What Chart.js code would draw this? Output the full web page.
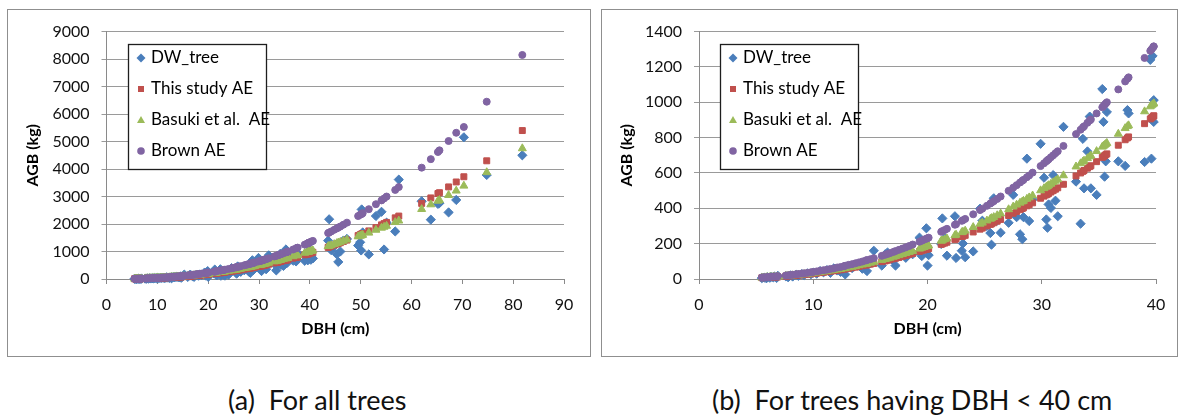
<!DOCTYPE html>
<html>
<head>
<meta charset="utf-8">
<script src="https://cdn.jsdelivr.net/npm/chart.js@4.4.0/dist/chart.umd.min.js"></script>
<style>
    body { margin: 0; background: #fff; width: 1181px; height: 415px; position: relative; overflow: hidden; font-family: Lato, 'Noto Sans', sans-serif; }
    .panel { position: absolute; top: 9px; height: 346px; border: 1px solid #8f8f8f; background: #fff; }
    .panel canvas { display: block; }
    #panelA { left: 7px; width: 582px; }
    #panelB { left: 601px; width: 575px; }
    .caption { position: absolute; top: 384px; font-size: 27px; line-height: 32px; color: #111; white-space: pre; }
</style>
</head>
<body>
<div class="panel" id="panelA"><canvas id="chartA" width="582" height="346"></canvas></div>
<div class="panel" id="panelB"><canvas id="chartB" width="575" height="346"></canvas></div>
<div class="caption" id="capA" style="left:228px"></div>
<div class="caption" id="capB" style="left:712px"></div>

<script>
// Tree data (DBH in cm, AGB in kg)
const seriesNames = ['DW_tree', 'This study AE', 'Basuki et al.  AE', 'Brown AE'];
const captions = ['(a)  For all trees', '(b)  For trees having DBH < 40 cm'];

const dbh = [
    5.5, 5.7, 5.9, 6.0, 6.2, 6.3, 6.5, 6.6, 6.8, 6.9,
    7.6, 7.8, 8.0, 8.2, 8.5, 8.7, 9.0, 9.2, 9.5, 9.8,
    10.0, 10.3, 10.6, 10.9, 11.2, 11.5, 11.8, 12.1, 12.4, 12.7,
    12.8, 13.1, 13.4, 13.7, 14.0, 14.3, 14.6, 14.7, 15.0, 15.3,
    16.0, 16.3, 16.5, 16.7, 17.0, 17.2, 17.5, 17.8, 18.1, 18.4,
    18.7, 19.3, 19.5, 19.7, 19.9, 20.0, 20.1, 21.2, 21.3, 21.5,
    21.7, 22.4, 22.5, 23.0, 23.1, 23.3, 24.0, 24.6, 24.8, 25.2,
    25.5, 25.6, 25.8, 26.1, 26.4, 27.1, 27.5, 27.8, 28.1, 28.3,
    28.4, 28.7, 28.9, 29.2, 29.9, 30.2, 30.4, 30.5, 30.6, 30.8,
    31.0, 31.2, 31.4, 31.9, 33.0, 33.4, 33.6, 33.7, 34.0, 34.2,
    34.3, 34.8, 35.3, 35.4, 35.5, 35.6, 35.7, 36.7, 37.3, 37.5,
    37.6, 39.0, 39.5, 39.6, 39.7, 39.8, 39.8, 40.2, 40.3, 40.6,
    43.6, 43.8, 44.2, 44.8, 45.3, 45.6, 46.0, 46.6, 47.3, 49.5,
    49.9, 50.1, 50.2, 50.4, 51.6, 53.0, 54.1, 54.6, 55.1, 56.8,
    57.5, 62.0, 63.8, 65.2, 65.5, 67.3, 68.8, 70.3, 74.8, 81.8
];

const dwTree = [
    5, 8, 4, 10, 7, 12, 9, 14, 6, 18,
    15, 10, 20, 14, 24, 18, 28, 22, 32, 27,
    36, 30, 45, 38, 50, 35, 60, 48, 40, 64,
    26, 70, 62, 78, 80, 58, 95, 45, 88, 160,
    76, 140, 150, 123, 104, 76, 130, 150, 120, 165,
    140, 234, 130, 185, 287, 76, 135, 198, 343, 230,
    132, 355, 119, 160, 201, 123, 156, 398, 330, 300,
    260, 194, 457, 330, 262, 318, 476, 350, 253, 225,
    350, 681, 328, 450, 765, 573, 337, 290, 422, 402,
    588, 443, 355, 861, 551, 313, 793, 513, 722, 919,
    513, 476, 1075, 889, 579, 666, 945, 666, 640, 956,
    937, 662, 1240, 681, 1262, 1012, 889, 700, 850, 750,
    1396, 2173, 1050, 1200, 900, 620, 1000, 1400, 1457, 1217,
    1335, 1038, 2531, 1693, 895, 2291, 2445, 1074, 2050, 1730,
    3616, 2828, 2159, 2732, 2760, 2423, 2875, 5155, 3784, 4500
];

const thisStudyAE = [
    7, 8, 8, 9, 10, 10, 11, 11, 12, 12,
    16, 17, 18, 19, 21, 22, 24, 25, 27, 29,
    31, 33, 36, 38, 41, 44, 46, 49, 52, 56,
    57, 60, 64, 67, 71, 75, 79, 80, 84, 88,
    98, 102, 106, 109, 114, 117, 122, 128, 133, 139,
    144, 156, 160, 164, 168, 170, 172, 196, 199, 203,
    208, 224, 227, 240, 242, 247, 266, 282, 288, 300,
    309, 312, 318, 327, 337, 359, 372, 382, 392, 399,
    403, 414, 420, 431, 457, 469, 476, 480, 484, 492,
    500, 508, 516, 536, 583, 600, 609, 614, 627, 636,
    641, 664, 688, 693, 698, 703, 708, 757, 788, 798,
    804, 879, 906, 912, 917, 923, 923, 945, 952, 972,
    1150, 1170, 1195, 1235, 1270, 1290, 1320, 1365, 1415, 1580,
    1612, 1628, 1636, 1652, 1750, 1870, 1970, 2015, 2060, 2225,
    2290, 2750, 2950, 3110, 3140, 3350, 3530, 3720, 4300, 5400
];

const basukiAE = [
    7, 8, 9, 9, 10, 10, 11, 12, 12, 13,
    17, 18, 19, 20, 22, 23, 25, 27, 29, 31,
    33, 36, 38, 41, 44, 47, 50, 53, 56, 60,
    61, 65, 68, 72, 77, 81, 85, 86, 91, 96,
    107, 112, 116, 119, 125, 129, 134, 140, 146, 152,
    158, 171, 176, 180, 185, 187, 189, 216, 218, 224,
    229, 247, 250, 264, 267, 273, 293, 312, 318, 330,
    340, 344, 350, 360, 370, 394, 409, 420, 431, 438,
    442, 453, 461, 472, 501, 513, 521, 525, 530, 538,
    547, 555, 564, 586, 636, 654, 664, 669, 683, 693,
    698, 723, 748, 753, 758, 763, 769, 821, 853, 864,
    869, 948, 976, 982, 987, 993, 993, 1010, 1015, 1035,
    1190, 1200, 1225, 1265, 1300, 1320, 1345, 1385, 1430, 1545,
    1570, 1580, 1590, 1600, 1680, 1785, 1860, 1895, 1930, 2065,
    2120, 2540, 2710, 2840, 2870, 3050, 3210, 3390, 3880, 4750
];

const brownAE = [
    9, 10, 10, 11, 12, 13, 14, 14, 15, 16,
    20, 21, 23, 24, 27, 28, 31, 32, 35, 38,
    40, 43, 47, 50, 53, 57, 60, 65, 68, 73,
    75, 80, 84, 89, 94, 99, 105, 107, 112, 118,
    131, 137, 142, 146, 153, 158, 165, 172, 179, 187,
    195, 211, 217, 223, 228, 231, 234, 267, 271, 277,
    284, 307, 310, 329, 333, 340, 366, 390, 398, 414,
    427, 432, 440, 453, 467, 499, 517, 531, 546, 556,
    561, 576, 586, 602, 639, 655, 666, 672, 677, 689,
    700, 712, 723, 753, 820, 845, 858, 864, 884, 897,
    903, 937, 972, 979, 986, 993, 1000, 1073, 1118, 1133,
    1141, 1251, 1291, 1299, 1307, 1316, 1316, 1352, 1360, 1386,
    1670, 1690, 1730, 1790, 1840, 1870, 1910, 1975, 2050, 2290,
    2335, 2360, 2370, 2395, 2540, 2720, 2860, 2930, 3000, 3240,
    3345, 4050, 4360, 4620, 4680, 5020, 5320, 5530, 6450, 8150
];

const seriesValues = [dwTree, thisStudyAE, basukiAE, brownAE];
const seriesColors = ['#4a7ebb', '#c0504d', '#9bbb59', '#8064a2'];
const seriesStyles = ['rectRot', 'rect', 'triangle', 'circle'];
const seriesRadius = [4.6, 4.2, 4.6, 3.5];

document.getElementById('capA').innerText = captions[0];
document.getElementById('capB').innerText = captions[1];

// draws the small marker glyph in the legend box
function drawMarker(ctx, style, x, y, color) {
    ctx.fillStyle = color;
    ctx.beginPath();
    if (style === 'rectRot') {
        ctx.moveTo(x, y - 4.5);
        ctx.lineTo(x + 4.5, y);
        ctx.lineTo(x, y + 4.5);
        ctx.lineTo(x - 4.5, y);
    } else if (style === 'rect') {
        ctx.rect(x - 3, y - 3, 6, 6);
    } else if (style === 'triangle') {
        ctx.moveTo(x, y - 4);
        ctx.lineTo(x + 4, y + 3);
        ctx.lineTo(x - 4, y + 3);
    } else {
        ctx.arc(x, y, 3.8, 0, Math.PI * 2);
    }
    ctx.closePath();
    ctx.fill();
}

const legendBox = {
    id: 'legendBox',
    afterDatasetsDraw(chart) {
        const { ctx, chartArea } = chart;
        const x0 = Math.round(chartArea.left + 21);
        const y0 = Math.round(chartArea.top + 12);
        const w = 138, h = 125;
        ctx.save();
        ctx.fillStyle = '#fff';
        ctx.fillRect(x0, y0, w, h);
        ctx.strokeStyle = '#1e1e1e';
        ctx.lineWidth = 1.3;
        ctx.strokeRect(x0 + 0.5, y0 + 0.5, w, h);
        ctx.font = '17px Lato';
        ctx.textBaseline = 'middle';
        seriesNames.forEach((name, i) => {
            const cy = y0 + 14 + i * 31;
            drawMarker(ctx, seriesStyles[i], x0 + 13, cy, seriesColors[i]);
            ctx.fillStyle = '#000';
            ctx.fillText(name, x0 + 23, cy);
        });
        ctx.restore();
    }
};

function makeChart(canvasId, xMax, yMax, yStep, rightPad, yAxisWidth) {
    const datasets = seriesNames.map((name, s) => ({
        label: name,
        data: dbh.map((d, i) => ({ x: d, y: seriesValues[s][i] })).filter(p => p.x <= xMax),
        pointStyle: seriesStyles[s],
        pointRadius: seriesRadius[s],
        backgroundColor: seriesColors[s],
        borderColor: seriesColors[s],
        borderWidth: 1,
        order: 3 - s,
        clip: false
    }));

    const tickFont = { family: 'Lato', size: 16 };
    const titleFont = { family: 'Lato', size: 16, weight: 'bold' };

    new Chart(document.getElementById(canvasId), {
        type: 'scatter',
        data: { datasets: datasets },
        options: {
            responsive: false,
            animation: false,
            layout: { padding: { top: 18, right: rightPad, bottom: 0, left: 0 } },
            plugins: {
                legend: { display: false },
                tooltip: { enabled: false }
            },
            scales: {
                x: {
                    min: 0,
                    max: xMax,
                    ticks: { stepSize: 10, color: '#111', font: tickFont, padding: 11, maxRotation: 0,
                        callback: (v) => String(v) },
                    grid: { drawOnChartArea: false, tickLength: 5, color: '#8a8a8a' },
                    border: { color: '#8a8a8a' },
                    title: { display: true, text: 'DBH (cm)', color: '#000', font: titleFont, padding: { top: 0, bottom: 18 } },
                    afterFit: (scale) => { scale.height = 77; }
                },
                y: {
                    min: 0,
                    max: yMax,
                    ticks: { stepSize: yStep, color: '#111', font: tickFont, padding: 12,
                        callback: (v) => String(v) },
                    grid: { color: '#9a9a9a', tickLength: 5, lineWidth: 1 },
                    border: { color: '#8a8a8a' },
                    title: { display: true, text: 'AGB (kg)', color: '#000', font: titleFont, padding: { top: 15, bottom: 0 } },
                    afterFit: (scale) => { scale.width = yAxisWidth; }
                }
            }
        },
        plugins: [legendBox]
    });
}

makeChart('chartA', 90, 9000, 1000, 26, 98.5);
makeChart('chartB', 40, 1400, 200, 21, 97);
</script>
</body>
</html>
